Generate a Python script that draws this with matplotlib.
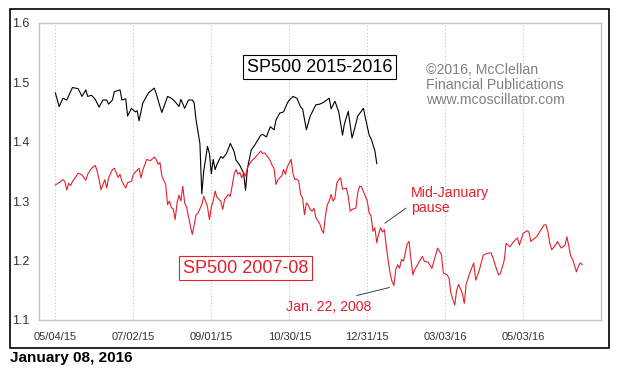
import matplotlib
matplotlib.use('Agg')
import matplotlib.pyplot as plt
from matplotlib.patches import Rectangle

plt.rcParams['font.family'] = ['Liberation Sans', 'DejaVu Sans']

# trading days counted from 05/04/15
tick_days = [0, 41, 82, 123, 164, 205, 246]
tick_labels = ['05/04/15', '07/02/15', '09/01/15', '10/30/15', '12/31/15', '03/03/16', '05/03/16']
y_ticks = [1.1, 1.2, 1.3, 1.4, 1.5, 1.6]

# SP500 2015-2016 (scaled)
black_day = [0, 2, 4, 6, 9, 12, 14, 16, 17, 19,
             21, 23, 25, 27, 28, 30, 31, 34, 35, 37,
             38, 40, 42, 43, 44, 46, 49, 52, 53, 55,
             56, 58, 59, 61, 63, 65, 66, 68, 70, 72,
             73, 74, 76, 77, 78, 80, 81, 82, 83, 84,
             85, 87, 88, 90, 92, 94, 95, 97, 99, 100,
             101, 103, 105, 108, 109, 111, 113, 115, 116, 118,
             120, 122, 123, 125, 127, 129, 130, 132, 134, 137,
             139, 141, 144, 145, 147, 149, 151, 152, 154, 156,
             158, 159, 162, 163, 165, 166, 168, 169]
black_val = [1.482, 1.459, 1.473, 1.470, 1.491, 1.489, 1.476, 1.487, 1.476, 1.478,
             1.471, 1.458, 1.470, 1.470, 1.463, 1.470, 1.484, 1.487, 1.470, 1.472,
             1.443, 1.456, 1.450, 1.452, 1.435, 1.465, 1.482, 1.490, 1.481, 1.459,
             1.449, 1.467, 1.476, 1.473, 1.467, 1.459, 1.471, 1.456, 1.470, 1.470,
             1.465, 1.436, 1.397, 1.312, 1.350, 1.392, 1.380, 1.346, 1.370, 1.353,
             1.362, 1.375, 1.372, 1.380, 1.397, 1.383, 1.369, 1.360, 1.347, 1.318,
             1.355, 1.386, 1.395, 1.411, 1.412, 1.408, 1.425, 1.420, 1.436, 1.448,
             1.450, 1.465, 1.470, 1.476, 1.473, 1.458, 1.455, 1.420, 1.443, 1.462,
             1.463, 1.466, 1.473, 1.455, 1.468, 1.450, 1.411, 1.430, 1.451, 1.406,
             1.430, 1.443, 1.456, 1.440, 1.411, 1.405, 1.385, 1.363]

# SP500 2007-08 (scaled)
red_day = [0, 2, 4, 5, 6, 7, 8, 9, 11, 12,
           14, 16, 17, 19, 21, 22, 23, 24, 26, 27,
           28, 30, 31, 32, 33, 34, 35, 37, 38, 40,
           41, 43, 44, 45, 46, 48, 50, 52, 53, 54,
           55, 56, 58, 59, 60, 61, 62, 63, 64, 65,
           66, 67, 68, 69, 71, 72, 73, 74, 75, 77,
           78, 79, 80, 81, 82, 83, 84, 85, 87, 88,
           89, 91, 92, 94, 95, 96, 97, 98, 99, 100,
           101, 103, 105, 106, 108, 109, 110, 112, 113, 114,
           115, 116, 117, 119, 120, 121, 122, 123, 124, 125,
           126, 127, 128, 129, 130, 131, 132, 133, 134, 135,
           136, 137, 139, 140, 141, 142, 143, 144, 145, 146,
           147, 148, 149, 150, 151, 153, 154, 155, 156, 158,
           159, 160, 161, 163, 164, 165, 166, 167, 168, 169,
           170, 171, 172, 173, 174, 175, 176, 177, 178, 179,
           180, 181, 182, 183, 184, 185, 186, 187, 188, 189,
           191, 193, 194, 196, 198, 200, 201, 203, 204, 206,
           207, 208, 210, 211, 212, 214, 215, 216, 218, 220,
           221, 222, 223, 225, 227, 229, 230, 231, 233, 234,
           236, 237, 239, 241, 243, 244, 246, 248, 249, 250,
           251, 253, 255, 257, 258, 259, 260, 261, 263, 264,
           266, 268, 269, 271, 272, 274, 275, 276, 277]
red_val = [1.327, 1.331, 1.336, 1.333, 1.319, 1.330, 1.326, 1.333, 1.342, 1.347,
           1.344, 1.335, 1.345, 1.355, 1.360, 1.350, 1.336, 1.319, 1.336, 1.322,
           1.339, 1.353, 1.355, 1.348, 1.340, 1.345, 1.333, 1.322, 1.331, 1.333,
           1.345, 1.352, 1.355, 1.339, 1.352, 1.370, 1.368, 1.374, 1.370, 1.362,
           1.365, 1.342, 1.328, 1.294, 1.300, 1.289, 1.287, 1.269, 1.297, 1.310,
           1.300, 1.325, 1.297, 1.290, 1.258, 1.244, 1.260, 1.277, 1.280, 1.294,
           1.308, 1.300, 1.290, 1.269, 1.290, 1.300, 1.317, 1.306, 1.300, 1.286,
           1.303, 1.311, 1.308, 1.345, 1.353, 1.345, 1.348, 1.339, 1.348, 1.342,
           1.356, 1.367, 1.373, 1.377, 1.384, 1.380, 1.381, 1.373, 1.368, 1.360,
           1.355, 1.328, 1.336, 1.342, 1.353, 1.345, 1.358, 1.364, 1.370, 1.345,
           1.336, 1.337, 1.333, 1.311, 1.305, 1.277, 1.297, 1.293, 1.286, 1.283,
           1.288, 1.272, 1.262, 1.252, 1.246, 1.275, 1.294, 1.300, 1.311, 1.300,
           1.305, 1.331, 1.336, 1.339, 1.320, 1.322, 1.308, 1.283, 1.286, 1.288,
           1.314, 1.325, 1.324, 1.308, 1.300, 1.280, 1.275, 1.249, 1.255, 1.230,
           1.245, 1.255, 1.248, 1.252, 1.224, 1.200, 1.179, 1.165, 1.158, 1.185,
           1.193, 1.187, 1.202, 1.199, 1.213, 1.228, 1.232, 1.201, 1.176, 1.185,
           1.196, 1.207, 1.199, 1.197, 1.187, 1.210, 1.221, 1.210, 1.179, 1.176,
           1.170, 1.145, 1.125, 1.150, 1.160, 1.145, 1.128, 1.160, 1.180, 1.196,
           1.167, 1.175, 1.185, 1.209, 1.212, 1.213, 1.206, 1.195, 1.176, 1.178,
           1.200, 1.229, 1.223, 1.232, 1.238, 1.226, 1.246, 1.250, 1.248, 1.232,
           1.235, 1.240, 1.250, 1.260, 1.260, 1.248, 1.229, 1.218, 1.226, 1.232,
           1.221, 1.226, 1.240, 1.207, 1.202, 1.181, 1.190, 1.196, 1.193]

red = '#e3202b'

fig = plt.figure(figsize=(6.23, 3.72), dpi=100)
fig.patch.set_facecolor('white')
ax = fig.add_axes([39 / 623, 52 / 372, 562 / 623, 297.3 / 372])

ax.plot(black_day, black_val, color='black', lw=0.8)
ax.plot(red_day, red_val, color=red, lw=0.8)

ax.set_xlim(-8.6, 286.9)
ax.set_ylim(1.1, 1.6)
ax.set_xticks(tick_days, tick_labels)
ax.set_yticks(y_ticks, [f'{v:.1f}' for v in y_ticks])
ax.tick_params(axis='x', length=0, labelsize=8, colors='#333333', pad=9)
ax.tick_params(axis='y', length=0, labelsize=9, colors='#333333', pad=7)
ax.grid(axis='x', color='#c4c4c4', linestyle=(0, (1, 2)), lw=0.8)
for s in ax.spines.values():
    s.set_color('#c4c4c4')
    s.set_linewidth(1)

ax.text(138.9, 1.525, 'SP500 2015-2016', fontsize=13, ha='center', va='center',
        bbox=dict(boxstyle='square,pad=0.2', fc='white', ec='black', lw=0.8))
ax.text(99.9, 1.187, 'SP500 2007-08', fontsize=13, color=red, ha='center', va='center',
        bbox=dict(boxstyle='square,pad=0.2', fc='white', ec=red, lw=0.8))
ax.text(194.9, 1.4953, '©2016, McClellan\nFinancial Publications\nwww.mcoscillator.com',
        fontsize=10.2, color='#808080', ha='left', va='center', linespacing=1.12)

ax.text(186.9, 1.3012, 'Mid-January\npause', fontsize=10.2, color=red,
        ha='left', va='center', linespacing=1.05)
ax.plot([173.3, 184.3], [1.2629, 1.2881], color='#404040', lw=0.7)
ax.text(121.3, 1.1227, 'Jan. 22, 2008', fontsize=10.2, color=red, ha='left', va='center')
ax.plot([158.5, 175.6], [1.1412, 1.1546], color='#404040', lw=0.7)

fig.add_artist(Rectangle((10 / 623, 24 / 372), 599 / 623, 339 / 372, transform=fig.transFigure,
                         fill=False, edgecolor='black', lw=1.2))
fig.text(10 / 623, (372 - 358.3) / 372, 'January 08, 2016', fontsize=11,
         fontweight='bold', ha='left', va='center')

fig.savefig('out.png', dpi=100)
